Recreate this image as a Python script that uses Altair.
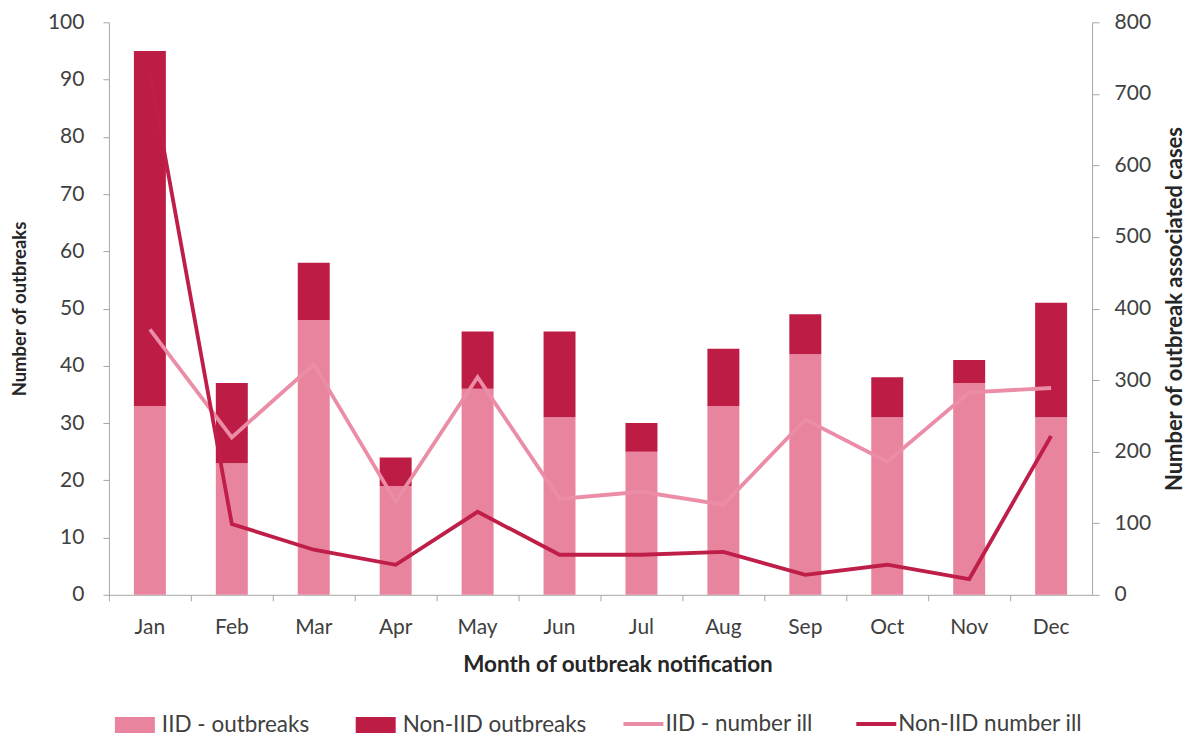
import altair as alt
import pandas as pd

months = ["Jan", "Feb", "Mar", "Apr", "May", "Jun", "Jul", "Aug", "Sep", "Oct", "Nov", "Dec"]
iid_outbreaks = [33, 23, 48, 19, 36, 31, 25, 33, 42, 31, 37, 31]
non_iid_outbreaks = [62, 14, 10, 5, 10, 15, 5, 10, 7, 7, 4, 20]
iid_ill = [371, 220, 322, 130, 304, 134, 144, 126, 245, 186, 283, 289]
non_iid_ill = [730, 99, 63, 42, 116, 56, 56, 60, 28, 42, 22, 222]

bar_series = ["IID - outbreaks", "Non-IID outbreaks"]
line_series = ["IID - number ill", "Non-IID number ill"]

LIGHT = "#E8849E"
DARK = "#BD1C45"
LIGHT_LINE = "#EB8DA6"
DARK_LINE = "#BE1E48"
FONT = "Lato"
AXIS_GREY = "#A6A6A6"
LABEL = "#404040"
TITLE = "#262626"

bars_df = pd.DataFrame({
    "month": months * 2,
    "series": [bar_series[0]] * 12 + [bar_series[1]] * 12,
    "value": iid_outbreaks + non_iid_outbreaks,
    "order": [0] * 12 + [1] * 12,
})
lines_df = pd.DataFrame({
    "month": months * 2,
    "series": [line_series[0]] * 12 + [line_series[1]] * 12,
    "value": iid_ill + non_iid_ill,
    "idx": list(range(12)) * 2,
})

x_enc = alt.X(
    "month:N", sort=months, title="Month of outbreak notification",
    scale=alt.Scale(paddingInner=0, paddingOuter=0),
    axis=alt.Axis(bandPosition=0, labelAngle=0, tickSize=6, labelPadding=16,
                  titlePadding=16, titleX=509, domainColor=AXIS_GREY, tickColor=AXIS_GREY,
                  labelColor=LABEL, labelFontSize=21, labelFont=FONT,
                  titleFont=FONT, titleFontSize=22.5, titleFontWeight="bold",
                  titleColor=TITLE, grid=False),
)

bars = alt.Chart(bars_df).mark_bar(width=32).encode(
    x=x_enc,
    y=alt.Y("value:Q", stack="zero", title="Number of outbreaks",
            scale=alt.Scale(domain=[0, 100]),
            axis=alt.Axis(values=list(range(0, 101, 10)), tickSize=6, labelPadding=19,
                          titlePadding=18, domainColor=AXIS_GREY, tickColor=AXIS_GREY,
                          labelColor=LABEL, labelFontSize=21, labelFont=FONT,
                          titleFont=FONT, titleFontSize=18.5, titleFontWeight="bold",
                          titleColor=TITLE, grid=False)),
    fill=alt.Fill("series:N", scale=alt.Scale(domain=bar_series, range=[LIGHT, DARK]),
                  legend=alt.Legend(title=None, orient="none", legendX=6, legendY=683,
                                    direction="horizontal", symbolType="M-1,-0.4H1V0.4H-1Z",
                                    symbolSize=1600, symbolStrokeWidth=0, labelFont=FONT,
                                    labelFontSize=22.5, labelColor=LABEL, labelOffset=7,
                                    labelLimit=400, columnPadding=46, padding=0)),
    order=alt.Order("order:Q"),
)

lines = alt.Chart(lines_df).mark_line(strokeWidth=3.8).encode(
    x=alt.X("month:N", sort=months),
    y=alt.Y("value:Q", title="Number of outbreak associated cases",
            scale=alt.Scale(domain=[0, 800]),
            axis=alt.Axis(orient="right", values=list(range(0, 801, 100)), tickSize=7,
                          labelPadding=15, titlePadding=14, titleAngle=270,
                          titleBaseline="top",
                          domainColor=AXIS_GREY, tickColor=AXIS_GREY,
                          labelColor=LABEL, labelFontSize=21, labelFont=FONT,
                          titleFont=FONT, titleFontSize=22, titleFontWeight="bold",
                          titleColor=TITLE, grid=False)),
    stroke=alt.Stroke("series:N", scale=alt.Scale(domain=line_series, range=[LIGHT_LINE, DARK_LINE]),
                      legend=alt.Legend(title=None, orient="none", legendX=513, legendY=680,
                                        direction="horizontal", symbolType="stroke",
                                        symbolSize=1600, symbolStrokeWidth=4, labelFont=FONT,
                                        labelFontSize=22.5, labelColor=LABEL, labelOffset=0,
                                        labelLimit=400, columnPadding=35, padding=0)),
    order=alt.Order("idx:Q"),
)

chart = alt.layer(bars, lines).resolve_scale(y="independent").properties(
    width=984, height=573,
    padding={"left": 2, "top": 3, "right": 0, "bottom": 0},
).configure_view(stroke=None)

chart.save("out.html", embed_options={"renderer": "svg", "actions": False})
